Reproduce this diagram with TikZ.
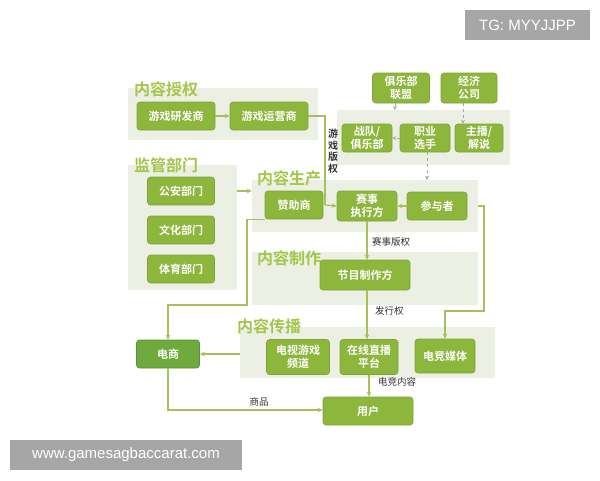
\documentclass[tikz,border=0pt]{standalone}
\usepackage{fontspec}
\setmainfont{Noto Sans CJK SC}[BoldFont={Noto Sans CJK SC Bold}]
\newfontfamily\wm{Liberation Sans}
\usetikzlibrary{arrows.meta,calc}
\definecolor{nodegreen}{HTML}{8DB63C}
\definecolor{nodeborder}{HTML}{7EA534}
\definecolor{darkgreen}{HTML}{6EAA3C}
\definecolor{panelbg}{HTML}{ECF0E4}
\definecolor{titlegreen}{HTML}{A5C64A}
\definecolor{linegreen}{HTML}{A9BF5C}
\definecolor{wmgray}{HTML}{A6A6A6}
\tikzset{
  box/.style={rounded corners=3pt, fill=nodegreen, draw=nodeborder, line width=0.6pt,
    text=white, font=\bfseries\fontsize{11}{13}\selectfont, align=center, inner sep=0pt},
  panel/.style={fill=panelbg, draw=none, inner sep=0pt},
  ptitle/.style={anchor=west, text=titlegreen, font=\bfseries\fontsize{16}{18}\selectfont, inner sep=0pt},
  conn/.style={draw=linegreen, line width=1.2pt, -{Stealth[length=5pt,width=4.5pt]}},
  plain/.style={draw=linegreen, line width=1.2pt},
  dasharrow/.style={draw=gray!70, line width=0.9pt, dashed, -{Stealth[length=4pt,width=4pt]}},
  lbl/.style={font=\fontsize{9.5}{11}\selectfont, text=black!80, inner sep=0pt},
  wmbox/.style={fill=wmgray, text=white, font=\wm\fontsize{15}{17}\selectfont, inner sep=0pt}
}
\begin{document}
\begin{tikzpicture}[x=1pt,y=-1pt]
\useasboundingbox (0,0) rectangle (600,480);
\fill[white] (0,0) rectangle (600,480);
% panels
\node[panel, minimum width=190pt, minimum height=52pt] (pauth) at (223,114) {};
\node[panel, minimum width=109pt, minimum height=125pt] (preg) at (182.5,227.5) {};
\node[panel, minimum width=173pt, minimum height=55pt] (ptop) at (423.5,137.5) {};
\node[panel, minimum width=226pt, minimum height=52pt] (pprod) at (365,206) {};
\node[panel, minimum width=226pt, minimum height=53pt] (pmake) at (365,278.5) {};
\node[panel, minimum width=255pt, minimum height=51pt] (pdist) at (367.5,352.5) {};
% titles
\node[ptitle] (t1) at (134,89) {内容授权};
\node[ptitle] (t2) at (134,165) {监管部门};
\node[ptitle] (t3) at (257,178) {内容生产};
\node[ptitle] (t4) at (257,258) {内容制作};
\node[ptitle] (t5) at (237,326) {内容传播};
% nodes
\node[box, minimum width=78pt, minimum height=28pt] (dev) at (176,116) {游戏研发商};
\node[box, minimum width=78pt, minimum height=28pt] (ops) at (269,116) {游戏运营商};
\node[box, minimum width=67pt, minimum height=28pt] (gongan) at (181,191) {公安部门};
\node[box, minimum width=67pt, minimum height=28pt] (wenhua) at (181,230) {文化部门};
\node[box, minimum width=67pt, minimum height=28pt] (tiyu) at (181,269) {体育部门};
\node[box, minimum width=57pt, minimum height=30pt] (lianmeng) at (401,88) {俱乐部\\联盟};
\node[box, minimum width=56pt, minimum height=30pt] (jingji) at (469,88) {经济\\公司};
\node[box, minimum width=50pt, minimum height=28pt] (zhandui) at (367,138) {战队/\\俱乐部};
\node[box, minimum width=50pt, minimum height=28pt] (xuanshou) at (425,138) {职业\\选手};
\node[box, minimum width=48pt, minimum height=28pt] (zhubo) at (479,138) {主播/\\解说};
\node[box, minimum width=58pt, minimum height=28pt] (zan) at (294,205) {赞助商};
\node[box, minimum width=60pt, minimum height=30pt] (saishi) at (367,206) {赛事\\执行方};
\node[box, minimum width=60pt, minimum height=28pt] (canyu) at (437,206) {参与者};
\node[box, minimum width=90pt, minimum height=30pt] (jiemu) at (365,275) {节目制作方};
\node[box, minimum width=63pt, minimum height=35pt] (tv) at (298,357) {电视游戏\\频道};
\node[box, minimum width=58pt, minimum height=35pt] (zhibo) at (369,357) {在线直播\\平台};
\node[box, minimum width=60pt, minimum height=34pt] (meiti) at (445,356) {电竞媒体};
\node[box, fill=darkgreen, draw=darkgreen!85!black, minimum width=63pt, minimum height=28pt] (dianshang) at (168,354) {电商};
\node[box, minimum width=90pt, minimum height=28pt] (yonghu) at (368,411) {用户};
% helper coordinates
\coordinate (c1) at (325,205);
\coordinate (c2) at (247,305);
\coordinate (c3) at (484,311);
\coordinate (c4) at (168,410);
% connectors
\draw[conn] (dev) -- (ops);
\draw[plain] (ops.east) -- (325,116) -- (c1);
\draw[conn] (c1) -- (saishi.west);
\node[lbl, align=center, font=\bfseries\fontsize{10}{11.5}\selectfont] (lbq) at (333,151) {游\\戏\\版\\权};
\draw[conn] (preg.east |- 0,191) -- (pprod.west |- 0,191);
\draw[conn] (canyu) -- (saishi);
\draw[dasharrow] (xuanshou) -- (zhandui);
\draw[dasharrow] ([xshift=-6pt]lianmeng.south) -- ([xshift=-6pt]lianmeng.south |- ptop.north);
\draw[dasharrow] ([xshift=-6pt]jingji.south) -- ([xshift=-6pt]jingji.south |- zhubo.north);
\draw[dasharrow] ([xshift=2pt]xuanshou.south) -- ([xshift=2pt]xuanshou.south |- pprod.north);
\draw[conn] (zan.south west) -| (c2) -| (dianshang.north);
\draw[conn] (saishi.south) -- (saishi.south |- jiemu.north);
\node[lbl, anchor=west] (lb1) at (372,242) {赛事版权};
\draw[conn] ([xshift=2pt]jiemu.south) -- ([xshift=2pt]jiemu.south |- zhibo.north);
\node[lbl, anchor=west] (lb2) at (375,311) {发行权};
\draw[conn] (zhibo.south) -- (zhibo.south |- yonghu.north);
\node[lbl, anchor=west] (lb3) at (378,382) {电竞内容};
\draw[conn] (pdist.west |- dianshang.east) -- (dianshang.east);
\draw[conn] (dianshang.south) -- (c4) -- (yonghu.west |- c4);
\node[lbl] (lb4) at (259,402) {商品};
\draw[conn] (pprod.east |- canyu.east) -| (c3) -| (meiti.north);
% watermarks
\node[wmbox, minimum width=125pt, minimum height=30pt] (wm1) at (527.5,25) {TG: MYYJJPP};
\node[wmbox, minimum width=232pt, minimum height=30pt] (wm2) at (126,455) {www.gamesagbaccarat.com};
\end{tikzpicture}
\end{document}
